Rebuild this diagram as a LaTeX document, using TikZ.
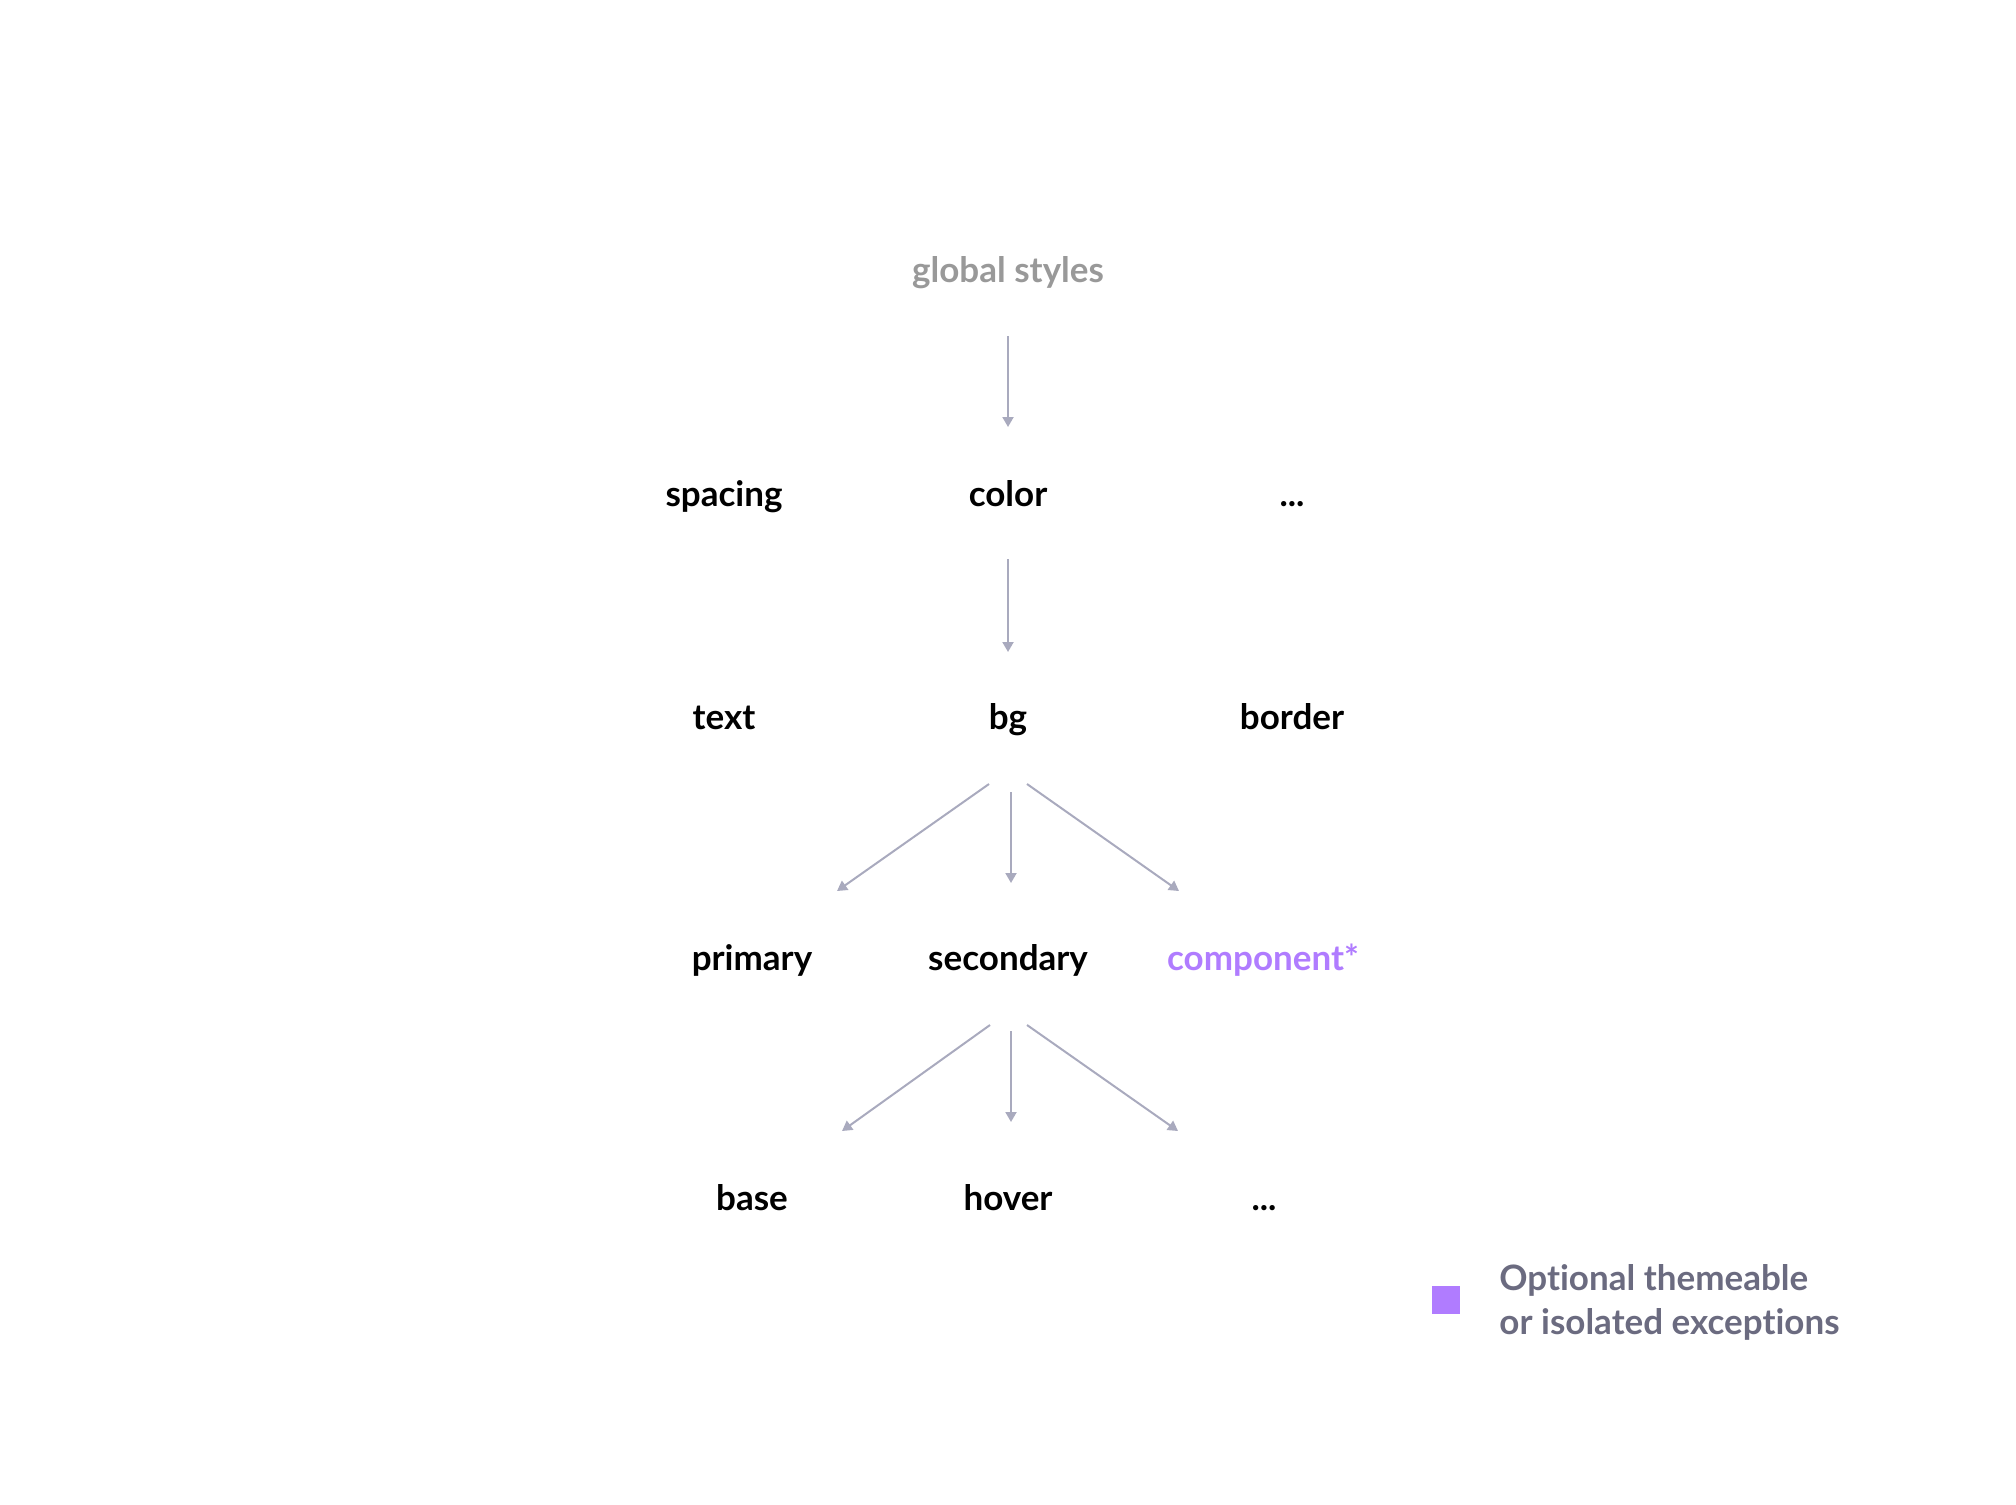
\documentclass[tikz,border=0pt]{standalone}
\usepackage{fontspec}
\setmainfont{Lato}[RawFeature={-liga,-dlig,-clig,-calt}]
\usetikzlibrary{arrows.meta,calc}
\definecolor{arrcol}{HTML}{A9AABE}
\definecolor{gscol}{HTML}{999999}
\definecolor{purp}{HTML}{B07CFF}
\definecolor{legcol}{HTML}{6B6B80}
\begin{document}
\begin{tikzpicture}[x=0.5pt,y=-0.5pt,
  lbl/.style={inner sep=0pt, anchor=base, font=\fontsize{17.5}{20}\selectfont\bfseries},
  arr/.style={draw=arrcol, line width=1pt, -{Triangle[length=5pt,width=5.5pt]}}]
\useasboundingbox (0,0) rectangle (2016,1504);
\node[lbl, text=gscol] (gs) at (1008,282) {global styles};
\node[lbl] (spacing) at (724,506) {spacing};
\node[lbl] (color) at (1008,506) {color};
\node[lbl] (dots1) at (1292,506) {...};
\node[lbl] (text) at (724,729) {text};
\node[lbl] (bg) at (1008,729) {bg};
\node[lbl] (border) at (1292,729) {border};
\node[lbl] (primary) at (752,970) {primary};
\node[lbl] (secondary) at (1008,970) {secondary};
\node[lbl, text=purp] (component) at (1263,970) {component*};
\node[lbl] (base) at (752,1210) {base};
\node[lbl] (hover) at (1008,1210) {hover};
\node[lbl] (dots2) at (1264,1210) {...};
% arrows
\draw[arr] ($(gs.base)+(0,54)$) -- ($(color.base)+(0,-79)$);
\draw[arr] ($(color.base)+(0,53)$) -- ($(bg.base)+(0,-77)$);
\draw[arr] ($(bg.base)+(-19,55)$) -- ($(primary.base)+(85,-79)$);
\draw[arr] ($(bg.base)+(3,63)$) -- ($(secondary.base)+(3,-87)$);
\draw[arr] ($(bg.base)+(19,55)$) -- ($(component.base)+(-84,-79)$);
\draw[arr] ($(secondary.base)+(-18,55)$) -- ($(base.base)+(90,-79)$);
\draw[arr] ($(secondary.base)+(3,61)$) -- ($(hover.base)+(3,-88)$);
\draw[arr] ($(secondary.base)+(19,55)$) -- ($(dots2.base)+(-86,-79)$);
% legend
\fill[purp] (1432,1286) rectangle (1460,1314) coordinate (sq);
\node[inner sep=0pt, anchor=base west, align=left, text=legcol,
  font=\fontsize{17.5}{22}\selectfont\bfseries] (leg) at (1499,1334)
  {Opt\kern0pt ional themeable\\or isolated exceptions};
\end{tikzpicture}
\end{document}
